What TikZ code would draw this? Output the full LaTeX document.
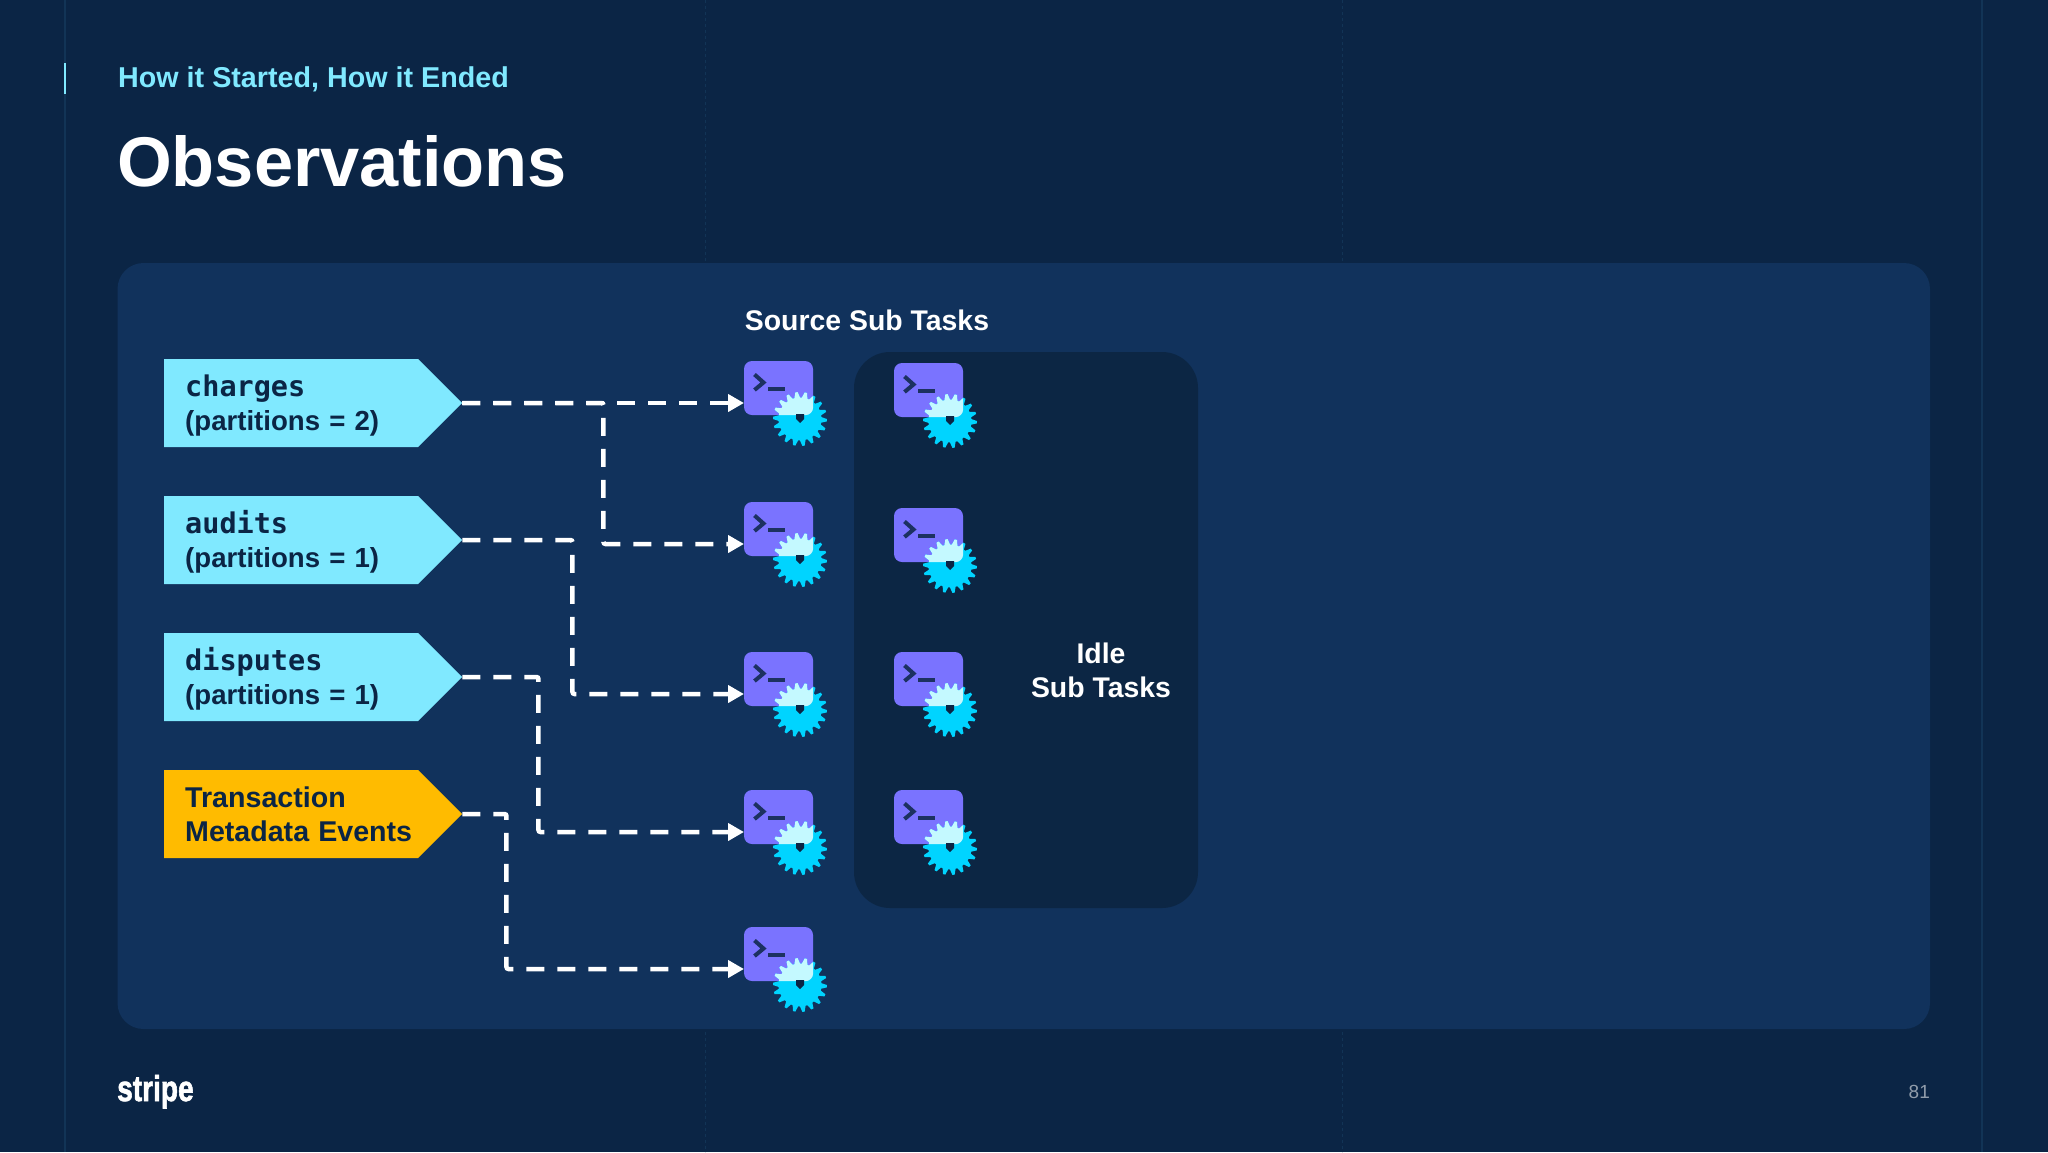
\documentclass[tikz,border=0pt]{standalone}
\usepackage{fontspec}
\setmainfont{Liberation Sans}
\setmonofont{DejaVu Sans Mono}
\newfontfamily\logofont[BoldFeatures={FakeBold=2}]{Liberation Sans}
\usepackage{tikz}
\usetikzlibrary{arrows.meta}
\usetikzlibrary{shapes.symbols}
\tikzset{>={Triangle[length=16pt,width=17pt]}}
\definecolor{pagebg}{HTML}{0B2545}
\definecolor{panelbg}{HTML}{11325C}
\definecolor{idlebg}{HTML}{0C2644}
\definecolor{gridline}{HTML}{123456}
\definecolor{skyblue}{HTML}{80E9FF}
\definecolor{amber}{HTML}{FFBB00}
\definecolor{termpurple}{HTML}{7A73FF}
\definecolor{cogblue}{HTML}{00D4FF}
\definecolor{coglight}{HTML}{C4F9FF}
\newcommand{\cogoutline}{plot[domain=0:355,samples=72] (\x:{mod(\x+1,20)<10?27:21.5}) -- cycle}
\tikzset{
  topic/.style={signal,signal to=east,signal pointer angle=90,fill=skyblue,text=pagebg,
    minimum height=88pt,text width=212pt,inner xsep=21pt,inner ysep=0pt,align=left,anchor=west,
    text height=27pt,text depth=40pt,font=\bfseries\fontsize{27.6}{34}\selectfont},
  flow/.style={->,draw=white,line width=4.5pt,dash pattern=on 18pt off 13pt,rounded corners=2pt},
  caption/.style={text=white,align=center,font=\bfseries\fontsize{28.4}{34}\selectfont},
  subtask/.pic={
    \node[fill=termpurple,rounded corners=8pt,minimum width=69pt,minimum height=54pt,inner sep=0pt] (box) at (0,0) {};
    \draw[pagebg!85!termpurple,line width=4pt] (-24,-13.5) -- (-15,-5.5) -- (-24,2);
    \draw[pagebg!85!termpurple,line width=4pt] (-10.5,1) -- (6.5,1);
    \begin{scope}[shift={(21.5,31)}]
      \fill[cogblue] \cogoutline;
      \begin{scope}[shift={(-21.5,-31)}]
        \clip[rounded corners=8pt] (box.south west) rectangle (box.north east);
        \fill[coglight,shift={(21.5,31)}] \cogoutline;
      \end{scope}
    \end{scope}
    \fill[pagebg] (17.5,26) -- (25.5,26) -- (25.5,31) -- (21.5,35) -- (17.5,31) -- cycle;
    \coordinate (port) at (-34.5,15);
  }
}
\begin{document}
\begin{tikzpicture}[x=1pt,y=-1pt]
    \fill[pagebg] (0,0) rectangle (2048,1152);
    \useasboundingbox (0,0) rectangle (2048,1152);
    \draw[gridline,line width=1.5pt] (65,0) -- (65,1152);
    \draw[gridline,line width=1pt,dashed] (705,0) -- (705,1152);
    \draw[gridline,line width=1pt,dashed] (1342,0) -- (1342,1152);
    \draw[gridline,line width=1.5pt] (1982,0) -- (1982,1152);
    \draw[skyblue,line width=2pt] (65,63) -- (65,94);
    \node[anchor=base west,inner sep=0pt,text=skyblue,font=\bfseries\fontsize{28.7}{34}\selectfont] (kicker) at (118,87) {How it Started, How it Ended};
    \node[anchor=base west,inner sep=0pt,text=white,font=\bfseries\fontsize{70.4}{80}\selectfont] (title) at (117,186) {Observations};
    \fill[panelbg,rounded corners=26pt] (117.5,263) rectangle (1930,1029);
    \fill[idlebg,rounded corners=36pt] (854,352) rectangle (1198,908);
    \node[caption] (source) at (867,320) {Source Sub Tasks};
    \node[caption] (idle) at (1101,670) {Idle\\Sub Tasks};
    % topics
    \node[topic] (charges) at (164,403) {{\ttfamily\fontsize{28.5}{34}\selectfont charges}\\(partitions = 2)};
    \node[topic] (audits) at (164,540) {{\ttfamily\fontsize{28.5}{34}\selectfont audits}\\(partitions = 1)};
    \node[topic] (disputes) at (164,677) {{\ttfamily\fontsize{28.5}{34}\selectfont disputes}\\(partitions = 1)};
    \node[topic,fill=amber] (meta) at (164,814) {\fontsize{28.6}{34}\selectfont Transaction\\\makebox[212pt][l]{Metadata Events}};
    % sub tasks
    \foreach \row/\ypos in {1/388,2/529,3/679,4/817,5/954}
      \pic (src\row) at (778.5,\ypos) {subtask};
    \foreach \row/\ypos in {1/390,2/535,3/679,4/817}
      \pic (spare\row) at (928.5,\ypos) {subtask};
    % connectors
    \draw[flow] (charges.east) -- (src1port);
    \draw[flow] (charges.east) -- ++(141,0) |- (src2port);
    \draw[flow] (audits.east) -- ++(110,0) |- (src3port);
    \draw[flow] (disputes.east) -- ++(76,0) |- (src4port);
    \draw[flow] (meta.east) -- ++(44,0) |- (src5port);
    % footer
    \node[anchor=base west,inner sep=0pt,text=white,font=\logofont\bfseries\fontsize{36}{40}\selectfont] (logo) at (117,1101) {\scalebox{0.78}[1]{stripe}};
    \node[anchor=base east,inner sep=0pt,text=white!55!pagebg,font=\fontsize{19}{22}\selectfont] (pageno) at (1930,1098) {81};
\end{tikzpicture}
\end{document}
